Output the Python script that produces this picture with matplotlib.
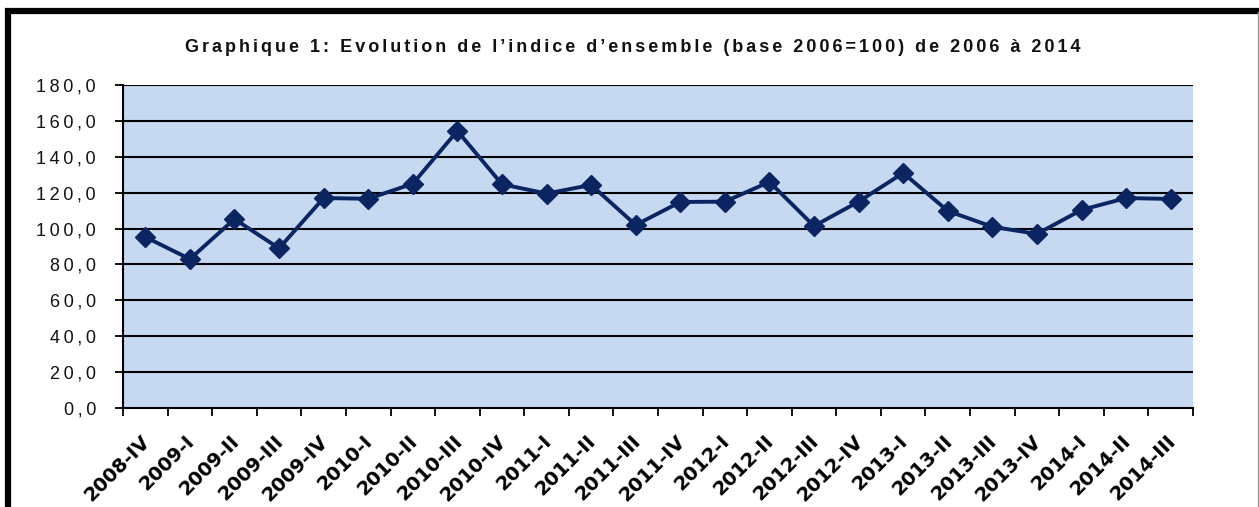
import numpy as np
import matplotlib.pyplot as plt
import matplotlib.transforms as mtransforms
from matplotlib.patches import Rectangle

plt.rcParams['font.family'] = ['Liberation Sans', 'DejaVu Sans']

# trimestres et valeurs de l'indice
periods = ["2008-IV", "2009-I", "2009-II", "2009-III", "2009-IV",
           "2010-I", "2010-II", "2010-III", "2010-IV",
           "2011-I", "2011-II", "2011-III", "2011-IV",
           "2012-I", "2012-II", "2012-III", "2012-IV",
           "2013-I", "2013-II", "2013-III", "2013-IV",
           "2014-I", "2014-II", "2014-III"]
index_values = [95.3, 83.0, 105.3, 89.0, 117.0,
                116.6, 125.0, 154.4, 124.7,
                119.5, 124.3, 102.0, 114.8,
                115.0, 126.0, 101.4, 115.0,
                131.0, 109.8, 101.0, 97.0,
                110.4, 117.0, 116.5]
yticks = [0, 20, 40, 60, 80, 100, 120, 140, 160, 180]

title = "Graphique 1: Evolution de l\u2019indice d\u2019ensemble (base 2006=100) de 2006 \u00e0 2014"


def spaced(s, sep):
    # espacement des lettres comme dans Excel
    return sep.join(s)


fig = plt.figure(figsize=(12.59, 5.07), dpi=100)
ax = fig.add_axes([123/1259, 1 - 408/507, (1193 - 123)/1259, (408 - 85)/507])

# cadre noir autour du graphique
fig.patches.append(Rectangle((7.5/1259, -0.1), 1.2, 1.1 - 10.5/507, transform=fig.transFigure,
                             fill=False, edgecolor='black', linewidth=4.5))
fig.add_artist(plt.Line2D([1257.5/1259, 1257.5/1259], [0, 1 - 12/507], transform=fig.transFigure,
                          color='#999999', linewidth=1))

x = np.arange(len(periods))
ax.set_facecolor('#C6D9F1')
ax.plot(x, index_values, color='#0b2462', linewidth=2.8, marker='D', markersize=10,
        markerfacecolor='#0b2462', markeredgecolor='#0b2462', zorder=3)

ax.set_xlim(-0.5, len(periods) - 0.5)
ax.set_ylim(0, 180)
ax.set_yticks(yticks)
ax.set_yticklabels([spaced(f"{v:.1f}".replace('.', ','), "\u2009") for v in yticks],
                   fontsize=13, color='#111111')
for v in yticks[1:]:
    ax.axhline(v, color='black', linewidth=1.5, zorder=1)

ax.set_xticks(np.arange(len(periods) + 1) - 0.5)
ax.set_xticklabels([])
ax.set_xticks(x, minor=True)
ax.set_xticklabels(periods, minor=True, rotation=45, ha='right', va='top',
                   rotation_mode='anchor', fontsize=14, fontweight='bold',
                   family='DejaVu Sans')
ax.tick_params(axis='x', which='minor', length=0, pad=17)
ax.tick_params(axis='x', which='major', length=6, width=1.3, direction='out')
ax.tick_params(axis='y', length=6, width=1.3, direction='out', pad=13.5)
shift = mtransforms.ScaledTranslation(-5/100, 0, fig.dpi_scale_trans)
for lab in ax.get_xticklabels(minor=True):
    lab.set_transform(lab.get_transform() + shift)

for s in ['top', 'right']:
    ax.spines[s].set_visible(False)
ax.spines['left'].set_linewidth(1.5)
ax.spines['bottom'].set_linewidth(1.5)

fig.text(633/1259, 1 - 47/507, spaced(title, "\u200a\u200a"),
         ha='center', va='center', fontsize=13, fontweight='bold', color='#111111')

fig.savefig('out.png', dpi=100)
